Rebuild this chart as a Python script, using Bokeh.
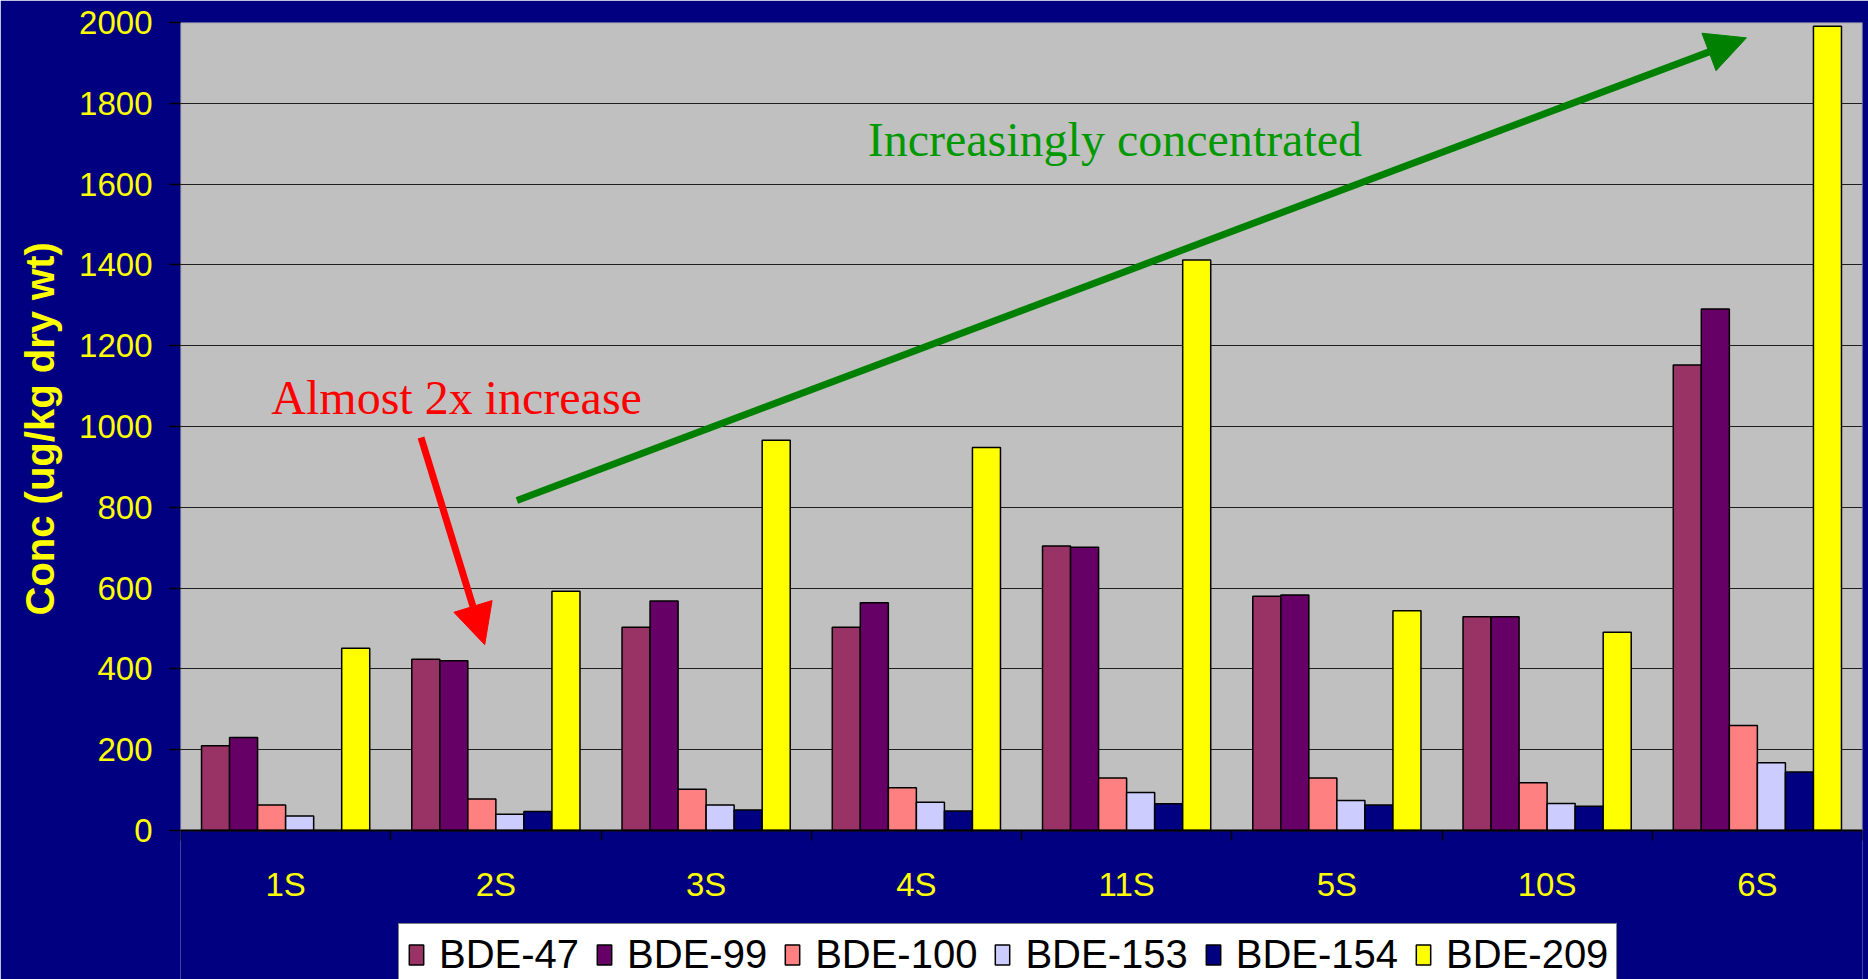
import numpy as np
from bokeh.plotting import figure
from bokeh.models import (ColumnDataSource, Range1d, FixedTicker, BoxAnnotation,
                          Label, Arrow, NormalHead, Legend, LegendItem, Title)
from bokeh.transform import dodge
from bokeh.embed import file_html
from bokeh.resources import INLINE

# Sampling stations, in the order they are plotted
categories = ["1S", "2S", "3S", "4S", "11S", "5S", "10S", "6S"]

# PBDE congener concentrations (ug/kg dry wt)
bde47 = [210, 424, 503, 503, 704, 580, 529, 1152]
bde99 = [230, 420, 568, 564, 701, 583, 529, 1291]
bde100 = [63, 78, 102, 106, 130, 130, 118, 260]
bde153 = [36, 40, 63, 70, 94, 74, 67, 168]
bde154 = [0, 47, 51, 48, 66, 63, 60, 145]
bde209 = [451, 592, 966, 948, 1412, 544, 491, 1991]

y_ticks = [0, 200, 400, 600, 800, 1000, 1200, 1400, 1600, 1800, 2000]

series_names = ["BDE-47", "BDE-99", "BDE-100", "BDE-153", "BDE-154", "BDE-209"]
series_values = [bde47, bde99, bde100, bde153, bde154, bde209]
series_colors = ["#993366", "#660066", "#FF8080", "#CCCCFF", "#000080", "#FFFF00"]

n_cat = len(categories)
centers = np.arange(n_cat) + 0.5
boundaries = list(np.arange(n_cat + 1).astype(float))
y_max = y_ticks[-1]

data = {"x": centers}
for name, vals in zip(series_names, series_values):
    data[name] = vals
source = ColumnDataSource(data)

NAVY = "#000080"
YELLOW = "#FFFF00"
FONT = "Liberation Sans"
SERIF = "Liberation Serif"

# The frame runs to the bottom of the page so that the legend under the
# station labels can live inside it; the value axis starts at 0 at 830 px.
FRAME_TOP, ZERO_PX, PAGE_H = 22, 830, 979
px_per_unit = (ZERO_PX - FRAME_TOP) / y_max
y_start = -(PAGE_H - ZERO_PX) / px_per_unit

p = figure(width=1868, height=PAGE_H,
           x_range=Range1d(0, n_cat), y_range=Range1d(y_start, y_max),
           output_backend="svg", toolbar_location=None,
           min_border_left=177, min_border_right=6,
           min_border_top=FRAME_TOP, min_border_bottom=0,
           background_fill_color=NAVY, border_fill_color=NAVY)
p.outline_line_color = None

# grey plotting area above the zero line
p.add_layout(BoxAnnotation(left=0, right=n_cat, bottom=0, top=y_max,
                           fill_color="#C0C0C0", fill_alpha=1,
                           line_color="#808080", line_width=2, level="image"))

# grouped bars: six congeners side by side in 80% of each station slot
group = 0.8
bar_w = group / len(series_names)
items = []
for j, (name, color) in enumerate(zip(series_names, series_colors)):
    offset = -group / 2 + (j + 0.5) * bar_w
    r = p.vbar(x=dodge("x", offset, range=p.x_range), top=name, width=bar_w,
               source=source, fill_color=color, line_color="black", line_width=1.5)
    items.append(LegendItem(label=name, renderers=[r]))

# x axis drawn on the zero line: labels at station centres, ticks between
xa = p.xaxis[0]
xa.fixed_location = 0
xa.ticker = FixedTicker(ticks=list(centers), minor_ticks=boundaries)
xa.major_label_overrides = {float(c): lab for c, lab in zip(centers, categories)}
xa.major_tick_line_color = None
xa.major_tick_out = 0
xa.major_tick_in = 0
xa.minor_tick_line_color = "black"
xa.minor_tick_line_width = 1.5
xa.minor_tick_out = 10
xa.minor_tick_in = 0
xa.axis_line_color = "black"
xa.axis_line_width = 2
xa.major_label_standoff = 25
xa.major_label_text_color = YELLOW
xa.major_label_text_font = FONT
xa.major_label_text_font_size = "33px"

# y axis (its left rule comes from the grey box border)
ya = p.yaxis[0]
ya.ticker = FixedTicker(ticks=y_ticks)
ya.bounds = (0, y_max)
ya.minor_tick_line_color = None
ya.major_tick_out = 11
ya.major_tick_in = 0
ya.major_tick_line_color = "black"
ya.major_tick_line_width = 1.5
ya.axis_line_color = None
ya.major_label_standoff = 17
ya.major_label_text_color = YELLOW
ya.major_label_text_font = FONT
ya.major_label_text_font_size = "33px"

# value-axis title, centred on the 0-2000 span rather than the whole frame
y_title = "Conc (ug/kg dry wt)"
title_len_px = 378
title_offset = (PAGE_H - ZERO_PX) + ((ZERO_PX - FRAME_TOP) - title_len_px) / 2
p.add_layout(Title(text=y_title, align="left", offset=title_offset,
                   standoff=30, text_color=YELLOW, text_font=FONT,
                   text_font_size="40px", text_font_style="bold"), "left")

p.xgrid.grid_line_color = None
p.ygrid.ticker = FixedTicker(ticks=y_ticks[1:])
p.ygrid.bounds = (0, n_cat)
p.ygrid.grid_line_color = "#1e1e1e"
p.ygrid.grid_line_width = 1

# legend under the station labels, running off the bottom edge
lg = Legend(items=items, orientation="horizontal", location=(218, -7), nrows=1)
lg.background_fill_color = "white"
lg.background_fill_alpha = 1
lg.border_line_color = "black"
lg.border_line_width = 1
lg.label_text_font = FONT
lg.label_text_font_size = "40px"
lg.label_text_color = "black"
lg.glyph_width = 18
lg.glyph_height = 25
lg.label_standoff = 14
lg.spacing = 16
lg.padding = 8
lg.margin = 0
p.add_layout(lg, "center")

# annotations
p.add_layout(Label(x=4.444, y=1710, text="Increasingly concentrated",
                   text_align="center", text_baseline="alphabetic",
                   text_font=SERIF, text_font_size="48px", text_color="#009900"))
p.add_layout(Arrow(x_start=1.600, y_start=817, x_end=7.448, y_end=1962,
                   line_color="#008000", line_width=7,
                   end=NormalHead(size=40, fill_color="#008000",
                                  line_color="#008000", line_width=1)))

p.add_layout(Label(x=0.432, y=1071, text="Almost 2x increase",
                   text_align="left", text_baseline="alphabetic",
                   text_font=SERIF, text_font_size="48px", text_color="#FF0000"))
p.add_layout(Arrow(x_start=1.144, y_start=973, x_end=1.447, y_end=460,
                   line_color="#FF0000", line_width=7,
                   end=NormalHead(size=40, fill_color="#FF0000",
                                  line_color="#FF0000", line_width=1)))

open("out.html", "w").write(file_html(p, INLINE))
